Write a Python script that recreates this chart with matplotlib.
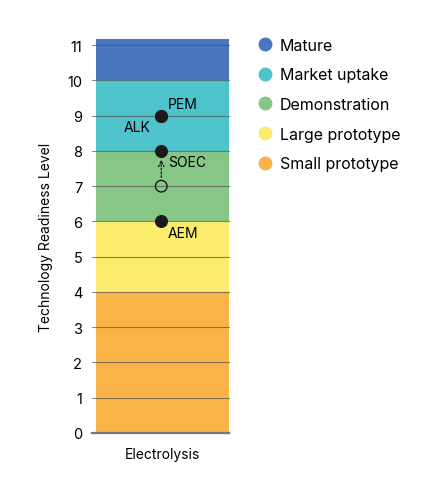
import matplotlib
matplotlib.use("Agg")
import matplotlib.pyplot as plt
from matplotlib.lines import Line2D

plt.rcParams['font.family'] = ['Inter', 'DejaVu Sans']

stage_names = ["Small prototype", "Large prototype", "Demonstration", "Market uptake", "Mature"]
stage_starts = [0, 4, 6, 8, 10]
stage_ends = [4, 6, 8, 10, 11.17]
stage_colors = ["#F8B447", "#FBEC6E", "#86C785", "#4FC3CB", "#4A76BE"]

category = "Electrolysis"
tech_names = ["PEM", "ALK", "SOEC", "AEM"]
tech_trl = [9, 9, 8, 6]
soec_from = 7
yticks = list(range(0, 12))

fig = plt.figure(figsize=(4.43, 5.02), dpi=100)
ax = fig.add_axes([0.217, 0.1355, 0.300, 0.7845])

for s, e, c in zip(stage_starts, stage_ends, stage_colors):
    ax.bar(0, e - s, bottom=s, width=1.0, color=c, zorder=1)

ax.set_xlim(-0.5, 0.5)
ax.set_ylim(0, 11.17)
ax.set_yticks(yticks)
ax.set_yticklabels([str(t) for t in yticks], fontsize=10.5)
for t in yticks:
    ax.axhline(t, color="#555555", lw=0.8, alpha=0.7, zorder=2, xmin=-0.03, clip_on=False)
ax.axhline(0, color="#777777", lw=1.6, zorder=2, xmin=-0.03, clip_on=False)
ax.tick_params(axis='y', length=0, pad=10)
ax.tick_params(axis='x', length=0, pad=10)
ax.set_xticks([0])
ax.set_xticklabels([category], fontsize=10)
for sp in ax.spines.values():
    sp.set_visible(False)
ax.set_ylabel("Technology Readiness Level", fontsize=10, labelpad=10)

xc = -0.01
# filled points
ax.scatter([xc] * len(tech_trl), tech_trl, s=70, color="#1a1a1a", zorder=4)
# open circle for SOEC previous level
ax.scatter([xc], [soec_from], s=70, facecolor="none", edgecolor="#1a1a1a", lw=1, zorder=4)
ax.annotate("", xy=(xc, tech_trl[2] - 0.17), xytext=(xc, soec_from + 0.17),
            arrowprops=dict(arrowstyle="->", linestyle=(0, (1.5, 1.5)), color="#1a1a1a", lw=0.9), zorder=4)

ax.text(xc + 0.05, tech_trl[0] + 0.32, tech_names[0], fontsize=10, ha="left", va="center", zorder=5)
ax.text(xc - 0.28, tech_trl[1] - 0.32, tech_names[1], fontsize=10, ha="left", va="center", zorder=5)
ax.text(xc + 0.05, tech_trl[2] - 0.3, tech_names[2], fontsize=10, ha="left", va="center", zorder=5)
ax.text(xc + 0.05, tech_trl[3] - 0.34, tech_names[3], fontsize=10, ha="left", va="center", zorder=5)

handles = [Line2D([0], [0], marker='o', linestyle='', markersize=9,
                  markerfacecolor=c, markeredgecolor=c) for c in stage_colors[::-1]]
fig.legend(handles, stage_names[::-1], loc="upper left", bbox_to_anchor=(0.556, 0.936),
           frameon=False, fontsize=11.5, handletextpad=0.1, handlelength=1.6,
           labelspacing=0.92, borderaxespad=0)

fig.savefig("out.png", dpi=100)
